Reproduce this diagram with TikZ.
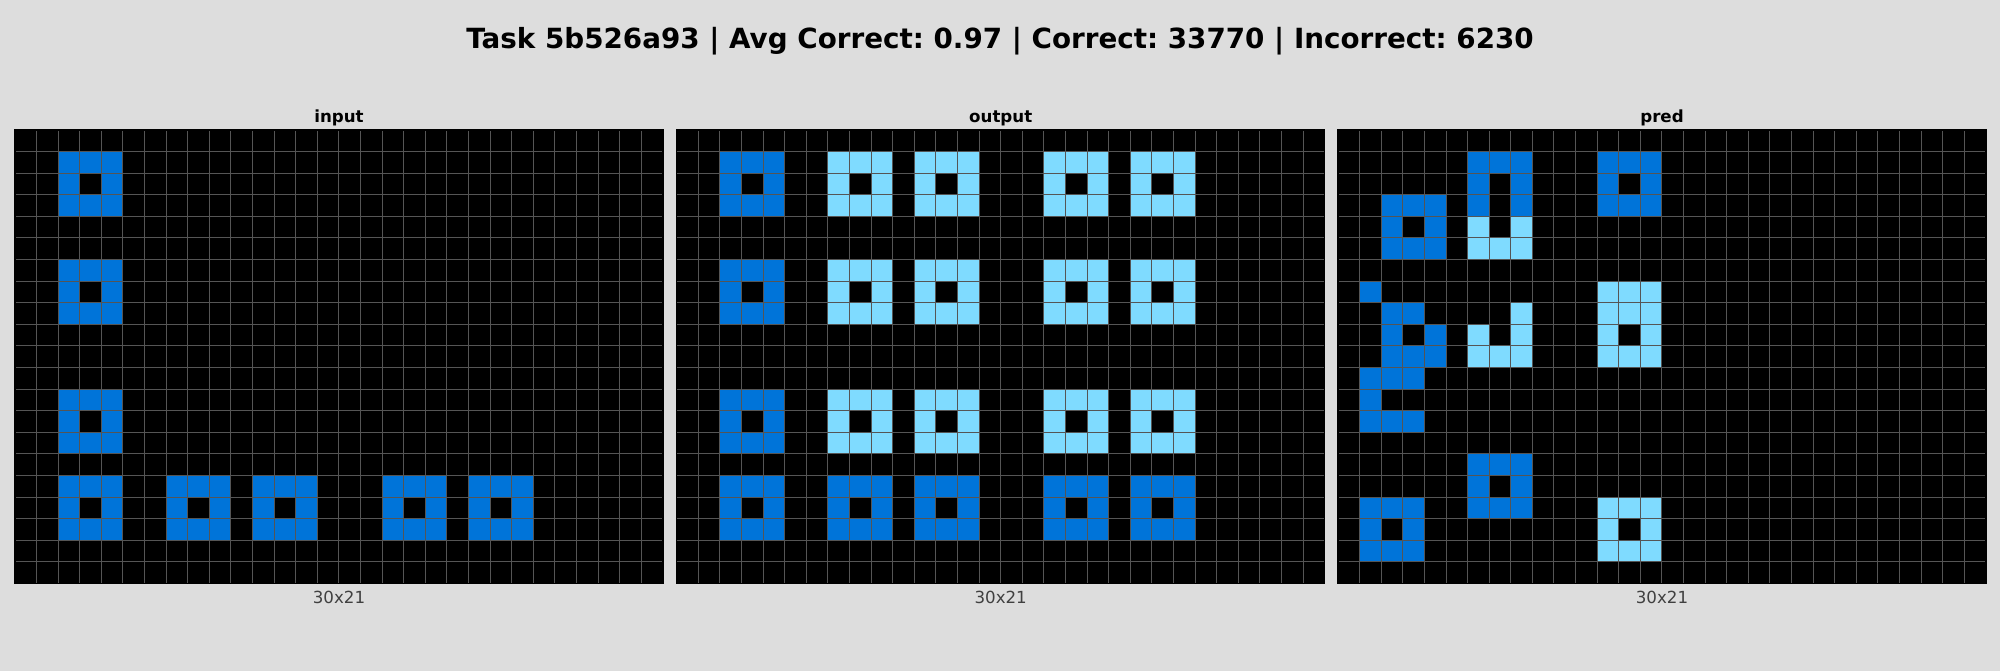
\documentclass[tikz,border=0pt]{standalone}
\usepackage{fontspec}
\setmainfont{DejaVu Sans}
\usepackage{xcolor}
\definecolor{Canvas}{HTML}{DDDDDD}
\definecolor{ArcBlue}{HTML}{0074D9}
\definecolor{ArcSky}{HTML}{7FDBFF}
\definecolor{GridGray}{HTML}{555555}
\definecolor{Muted}{HTML}{404040}
\tikzset{
 darkcell/.style={fill=ArcBlue},
 lightcell/.style={fill=ArcSky},
 gridline/.style={draw=GridGray, line width=0.72pt},
 frame/.style={draw=black, line width=0.9pt},
 headline/.style={font=\bfseries\fontsize{20}{24}\selectfont, anchor=base},
 paneltitle/.style={font=\bfseries\fontsize{12}{14}\selectfont, anchor=base},
 sizelabel/.style={font=\fontsize{12}{14}\selectfont, text=Muted, anchor=base},
 panel/.style={x=15.55pt, y=-15.55pt}
}
\newcommand{\hollowsq}[3]{\fill[#1] (#2,#3) rectangle ++(3,3); \fill[black] (#2+1,#3+1) rectangle ++(1,1);}
\newcommand{\cellgrid}{%
 \foreach \c in {1,...,29} {\draw[gridline] (\c,0) -- (\c,21);}
 \foreach \r in {1,...,20} {\draw[gridline] (0,\r) -- (30,\r);}
 \draw[frame] (0,0) rectangle (30,21);}
\frenchspacing

\begin{document}
\begin{tikzpicture}[x=0.72pt,y=-0.72pt]
\fill[Canvas] (0,0) rectangle (2000,671);
\useasboundingbox (0,0) rectangle (2000,671);
\node[headline] (task) at (1000,48) {Task 5b526a93 | Avg Correct: 0.97 | Correct: 33770 | Incorrect: 6230};

% input
\node[paneltitle] (intitle) at (339,122) {input};
\node[sizelabel] (insize) at (339,603) {30x21};
\begin{scope}[shift={(15,130)}, panel]
\fill[black] (0,0) rectangle (30,21);
\foreach \c/\r in {2/1,2/6,2/12,2/16,7/16,11/16,17/16,21/16}
 {\hollowsq{darkcell}{\c}{\r}}
\cellgrid
\end{scope}

% output
\node[paneltitle] (outtitle) at (1000.7,122) {output};
\node[sizelabel] (outsize) at (1000.7,603) {30x21};
\begin{scope}[shift={(676.7,130)}, panel]
\fill[black] (0,0) rectangle (30,21);
\foreach \c/\r in {2/1,2/6,2/12,2/16,7/16,11/16,17/16,21/16}
 {\hollowsq{darkcell}{\c}{\r}}
\foreach \c in {7,11,17,21}
 \foreach \r in {1,6,12}
 {\hollowsq{lightcell}{\c}{\r}}
\cellgrid
\end{scope}

% pred
\node[paneltitle] (predtitle) at (1662,122) {pred};
\node[sizelabel] (predsize) at (1662,603) {30x21};
\begin{scope}[shift={(1338,130)}, panel]
\fill[black] (0,0) rectangle (30,21);
\foreach \c/\r in {12/1,2/3,6/15,1/17}
 {\hollowsq{darkcell}{\c}{\r}}
\hollowsq{lightcell}{12}{17}
\foreach \c/\r in {6/1,7/1,8/1,6/2,8/2,6/3,8/3,1/7,2/8,3/8,2/9,4/9,2/10,3/10,4/10,1/11,2/11,3/11,1/12,1/13,2/13,3/13}
 {\fill[darkcell] (\c,\r) rectangle ++(1,1);}
\foreach \c/\r in {6/4,8/4,6/5,7/5,8/5,8/8,6/9,8/9,6/10,7/10,8/10,12/7,13/7,14/7,12/8,13/8,14/8,12/9,14/9,12/10,13/10,14/10}
 {\fill[lightcell] (\c,\r) rectangle ++(1,1);}
\cellgrid
\end{scope}
\end{tikzpicture}
\end{document}
